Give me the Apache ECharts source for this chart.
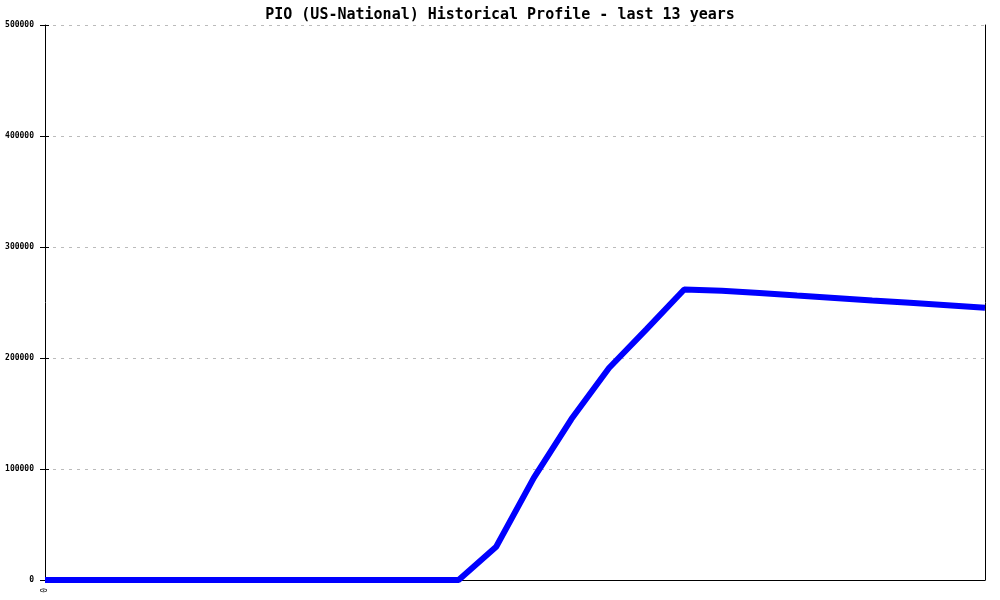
<!DOCTYPE html>
<html>
<head>
<meta charset="utf-8">
<script src="https://cdn.jsdelivr.net/npm/echarts@6/dist/echarts.min.js"></script>
<style>html,body{margin:0;padding:0;background:#fff}#c{width:1000px;height:600px}</style>
</head>
<body>
<div id="c"></div>
<script>
const titleText = 'PIO (US-National) Historical Profile - last 13 years';
const xLabels = ['0','','','','','','','','','','','','','','','','','','','','','','','','',''];
const values = [0,0,0,0,0,0,0,0,0,0,0,0,30000,92000,145000,191000,226000,261700,260500,258600,256300,254100,251800,249700,247500,245300];
const yTicks = [0,100000,200000,300000,400000,500000];

const chart = echarts.init(document.getElementById('c'));
chart.setOption({
  animation:false,
  backgroundColor:'#fff',
  title:{text:titleText,left:'center',top:3,textStyle:{fontFamily:'DejaVu Sans Mono',fontSize:15,fontWeight:'bold',color:'#000'}},
  grid:{left:45,right:15,top:25,bottom:20,containLabel:false},
  xAxis:{type:'category',data:xLabels,boundaryGap:false,
    axisLine:{lineStyle:{color:'#000',width:1}},axisTick:{show:false},
    axisLabel:{interval:0,rotate:90,fontFamily:'DejaVu Sans Mono',fontSize:8,color:'#000',margin:8},
    splitLine:{show:false}},
  yAxis:[{type:'value',min:yTicks[0],max:yTicks[yTicks.length-1],interval:100000,
    axisLine:{show:true,lineStyle:{color:'#000',width:1}},
    axisTick:{show:true,length:5,lineStyle:{color:'#000'}},
    axisLabel:{fontFamily:'DejaVu Sans Mono',fontSize:8,fontWeight:'bold',color:'#000',margin:11,formatter:v=>String(v)},
    splitLine:{show:true,lineStyle:{color:'#bbb',type:[3,5],width:1}}},
   {type:'value',position:'left',min:0,max:500000,interval:100000,
    axisLine:{show:false},axisTick:{show:true,inside:true,length:4,lineStyle:{color:'#000'}},axisLabel:{show:false},splitLine:{show:false}},
   {type:'value',position:'right',min:0,max:500000,interval:100000,
    axisLine:{show:true,lineStyle:{color:'#000',width:1}},axisTick:{show:false},axisLabel:{show:false},splitLine:{show:false}}],
  series:[{type:'line',data:values,symbol:'none',clip:true,lineStyle:{color:'#0000ff',width:6,cap:'butt'},itemStyle:{color:'#0000ff'}}]
});
</script>
</body>
</html>
